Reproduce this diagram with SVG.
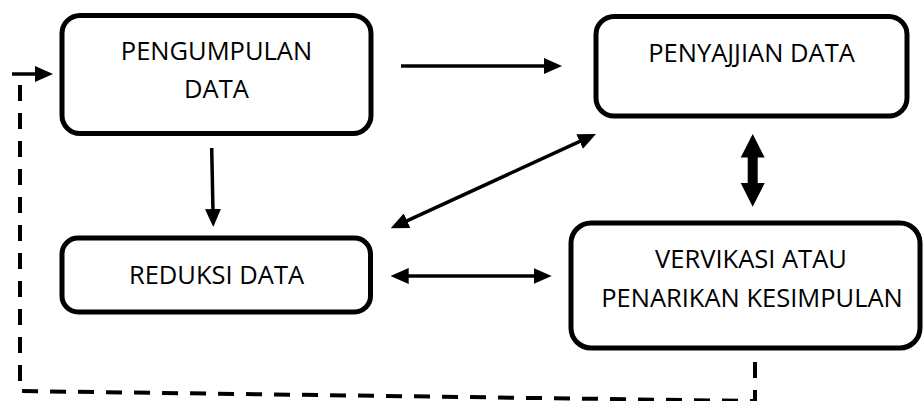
<svg xmlns="http://www.w3.org/2000/svg" width="924" height="401" viewBox="0 0 924 401">
<style>
.box{fill:#fff;stroke:#000;stroke-width:5}
.lbl{font-family:"Open Sans","Noto Sans",sans-serif;font-size:25.5px;fill:#000;text-anchor:middle}
.ln{stroke:#000;stroke-width:3.5;fill:none}
.dash{stroke:#000;stroke-width:4;fill:none;stroke-dasharray:16 12}
</style>
<defs>
<marker id="ah" markerUnits="userSpaceOnUse" markerWidth="18" markerHeight="16" viewBox="0 0 18 16" refX="8" refY="8" orient="auto-start-reverse">
<path d="M0,0 L18,8 L0,16 z" fill="#000"/>
</marker>
</defs>
<rect width="924" height="401" fill="#fff"/>
<g id="connectors">
<path class="dash" d="M755,362 L755,401 L20,391 L20,83"/>
<line class="ln" x1="12" y1="74" x2="43" y2="74" stroke-width="4" marker-end="url(#ah)"/>
<line class="ln" x1="401" y1="66" x2="552" y2="66" marker-end="url(#ah)"/>
<line class="ln" x1="211.7" y1="148" x2="213.1" y2="217" marker-end="url(#ah)"/>
<line class="ln" x1="399.8" y1="224.1" x2="586.9" y2="138.2" marker-start="url(#ah)" marker-end="url(#ah)"/>
<line class="ln" x1="400.7" y1="276" x2="541.7" y2="276" stroke-width="4" marker-start="url(#ah)" marker-end="url(#ah)"/>
<path d="M752.7,134 L764.7,157.5 L757.7,157.5 L757.7,183 L764.7,183 L752.7,206.7 L740.7,183 L747.7,183 L747.7,157.5 L740.7,157.5 z" fill="#000"/>
</g>
<g id="pengumpulan">
<rect class="box" x="62" y="15.5" width="309" height="118" rx="18"/>
<text class="lbl" x="216.5" y="60">PENGUMPULAN</text>
<text class="lbl" x="216.5" y="98">DATA</text>
</g>
<g id="penyajian">
<rect class="box" x="596" y="16.5" width="311" height="99.5" rx="18"/>
<text class="lbl" x="751.5" y="62">PENYAJJIAN DATA</text>
</g>
<g id="reduksi">
<rect class="box" x="62" y="238" width="308.5" height="74" rx="16"/>
<text class="lbl" x="216.5" y="284">REDUKSI DATA</text>
</g>
<g id="vervikasi">
<rect class="box" x="571" y="223" width="349" height="125" rx="20"/>
<text class="lbl" x="751" y="268">VERVIKASI ATAU</text>
<text class="lbl" x="752" y="307">PENARIKAN KESIMPULAN</text>
</g>
</svg>
